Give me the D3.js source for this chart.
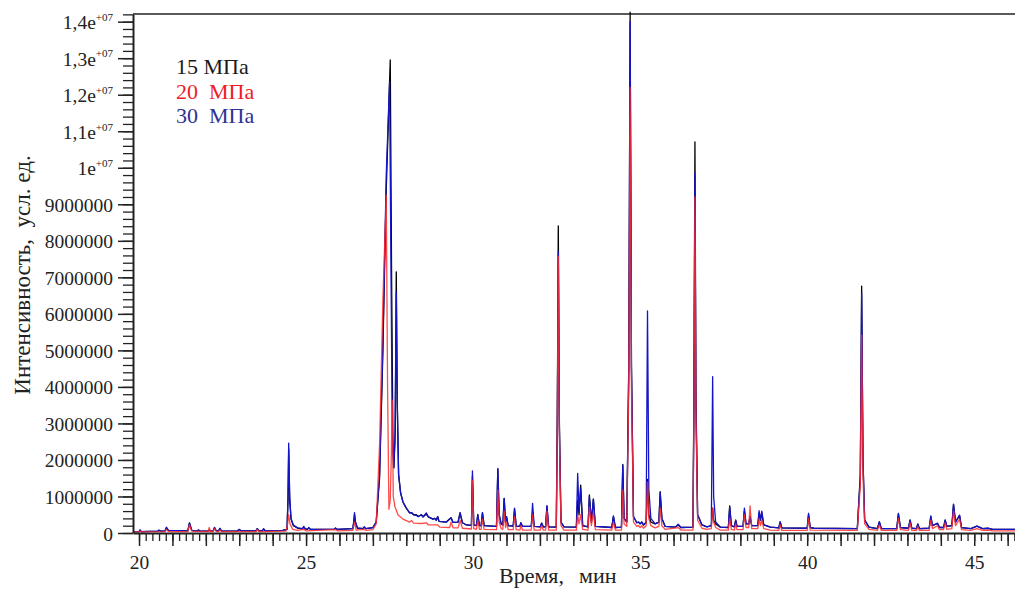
<!DOCTYPE html>
<html lang="ru">
<head>
<meta charset="UTF-8">
<script src="https://d3js.org/d3.v7.min.js"></script>
<style>
  body { margin: 0; background: #fff; }
  svg { display: block; font-family: 'Liberation Serif', 'DejaVu Serif', serif; }
  .axis path, .axis line { stroke: #222; }
  .axis text { fill: #222; font-size: 19.5px; font-family: 'Liberation Serif', 'DejaVu Serif', serif; }
  .trace { fill: none; stroke-width: 1.3px; stroke-linejoin: round; }
</style>
</head>
<body>
<script>
// intensity in millions of units, time in minutes: [t, value]
const series15 = [
  [19.82,0.04],[20.0,0.04],[20.03,0.06],[20.07,0.04],[20.56,0.05],[20.6,0.07],[20.65,0.05],[20.78,0.06],[20.82,0.14],[20.88,0.07],
  [21.46,0.06],[21.51,0.28],[21.58,0.07],[21.75,0.05],[21.78,0.08],[21.82,0.05],[22.07,0.05],[22.1,0.08],[22.14,0.05],[22.22,0.06],
  [22.26,0.15],[22.31,0.06],[22.38,0.06],[22.42,0.12],[22.47,0.05],[22.95,0.06],[23.0,0.09],[23.06,0.06],[23.5,0.06],[23.54,0.12],
  [23.59,0.06],[23.69,0.06],[23.73,0.1],[23.78,0.06],[24.3,0.07],[24.43,0.1],[24.46,0.9],[24.48,2.3],[24.51,0.9],[24.55,0.38],
  [24.62,0.2],[24.75,0.13],[24.89,0.11],[24.93,0.16],[24.98,0.11],[25.04,0.1],[25.08,0.14],[25.13,0.1],[25.84,0.1],[25.88,0.13],
  [25.93,0.1],[26.4,0.12],[26.43,0.3],[26.45,0.5],[26.48,0.28],[26.54,0.13],[26.7,0.12],[26.74,0.16],[26.79,0.12],[27.0,0.15],
  [27.1,0.3],[27.2,1.5],[27.3,5.0],[27.4,9.4],[27.52,12.95],[27.56,7.0],[27.6,2.5],[27.63,1.78],[27.67,2.8],[27.7,7.15],
  [27.73,3.6],[27.77,1.6],[27.83,1.1],[27.9,0.85],[28.0,0.68],[28.1,0.55],[28.16,0.55],[28.22,0.5],[28.3,0.5],[28.36,0.45],
  [28.45,0.5],[28.5,0.44],[28.6,0.52],[28.66,0.44],[28.8,0.38],[28.85,0.4],[28.9,0.35],[28.94,0.45],[28.98,0.32],[29.2,0.3],
  [29.34,0.42],[29.4,0.29],[29.55,0.3],[29.61,0.55],[29.68,0.28],[29.8,0.22],[29.95,0.21],[29.98,1.55],[30.02,0.22],[30.1,0.2],
  [30.14,0.5],[30.19,0.2],[30.24,0.2],[30.28,0.55],[30.33,0.2],[30.7,0.18],[30.74,1.75],[30.78,0.5],[30.84,0.25],[30.89,0.22],
  [30.93,0.95],[30.97,0.3],[31.0,0.45],[31.05,0.2],[31.2,0.19],[31.24,0.65],[31.29,0.19],[31.4,0.18],[31.43,0.28],[31.48,0.18],
  [31.74,0.18],[31.78,0.55],[31.83,0.18],[32.01,0.17],[32.05,0.27],[32.1,0.17],[32.17,0.17],[32.21,0.74],[32.26,0.17],[32.49,0.16],
  [32.52,3.2],[32.55,8.41],[32.58,3.2],[32.63,0.3],[32.72,0.17],[33.09,0.16],[33.13,0.9],[33.17,0.5],[33.22,1.31],[33.28,0.2],
  [33.44,0.17],[33.48,1.04],[33.54,0.3],[33.6,0.93],[33.66,0.18],[34.15,0.15],[34.2,0.45],[34.26,0.15],[34.44,0.16],[34.48,1.88],
  [34.52,0.4],[34.6,0.3],[34.66,4.6],[34.7,14.26],[34.74,4.6],[34.8,0.45],[34.9,0.28],[34.95,0.3],[35.0,0.25],[35.05,0.3],
  [35.1,0.22],[35.18,0.28],[35.22,1.47],[35.26,0.5],[35.32,0.3],[35.45,0.25],[35.56,0.3],[35.6,1.13],[35.65,0.4],[35.75,0.18],
  [36.05,0.16],[36.14,0.22],[36.22,0.15],[36.58,0.16],[36.61,3.8],[36.64,10.71],[36.67,3.8],[36.72,0.5],[36.85,0.22],[37.0,0.17],
  [37.13,0.2],[37.17,0.68],[37.2,0.35],[37.26,0.25],[37.4,0.16],[37.64,0.15],[37.68,0.74],[37.73,0.2],[37.82,0.17],[37.86,0.35],
  [37.9,0.18],[38.08,0.18],[38.12,0.6],[38.17,0.25],[38.25,0.25],[38.29,0.45],[38.34,0.2],[38.52,0.2],[38.56,0.55],[38.6,0.35],
  [38.64,0.55],[38.7,0.22],[38.9,0.16],[39.15,0.14],[39.19,0.3],[39.24,0.14],[40.0,0.13],[40.04,0.5],[40.09,0.15],[40.2,0.13],
  [41.5,0.12],[41.59,1.6],[41.63,6.76],[41.67,2.0],[41.72,0.35],[41.85,0.16],[42.1,0.12],[42.16,0.3],[42.22,0.12],[42.68,0.12],
  [42.73,0.52],[42.79,0.15],[43.03,0.13],[43.08,0.35],[43.13,0.13],[43.27,0.12],[43.31,0.24],[43.36,0.12],[43.65,0.13],[43.7,0.45],
  [43.75,0.2],[43.9,0.26],[43.96,0.15],[44.08,0.15],[44.13,0.35],[44.18,0.18],[44.33,0.2],[44.38,0.78],[44.44,0.3],[44.56,0.48],
  [44.62,0.15],[44.9,0.12],[45.08,0.19],[45.25,0.12],[45.43,0.13],[45.55,0.1],[46.25,0.1]
];

const series20 = [
  [19.82,0.03],[20.0,0.03],[20.03,0.05],[20.07,0.03],[20.78,0.04],[20.82,0.1],[20.88,0.04],[21.46,0.04],[21.51,0.22],[21.58,0.05],
  [22.07,0.04],[22.1,0.15],[22.14,0.04],[22.22,0.04],[22.26,0.12],[22.31,0.04],[22.38,0.04],[22.42,0.08],[22.47,0.04],[23.5,0.04],
  [23.54,0.1],[23.59,0.04],[24.4,0.05],[24.45,0.25],[24.48,0.5],[24.52,0.25],[24.6,0.1],[24.75,0.07],[24.93,0.1],[25.0,0.06],
  [25.88,0.09],[25.95,0.06],[26.4,0.07],[26.45,0.3],[26.5,0.08],[26.74,0.1],[26.8,0.07],[27.0,0.09],[27.1,0.25],[27.2,2.4],
  [27.3,6.4],[27.4,9.25],[27.44,4.0],[27.48,0.65],[27.52,0.9],[27.55,2.0],[27.58,3.64],[27.61,1.0],[27.66,0.72],[27.75,0.5],
  [27.9,0.38],[28.1,0.3],[28.16,0.34],[28.22,0.27],[28.45,0.26],[28.6,0.28],[28.66,0.22],[28.94,0.22],[29.0,0.16],[29.3,0.15],
  [29.34,0.3],[29.4,0.14],[29.55,0.14],[29.61,0.35],[29.68,0.13],[29.95,0.11],[29.98,1.45],[30.02,0.12],[30.1,0.1],[30.14,0.35],
  [30.19,0.1],[30.24,0.1],[30.28,0.38],[30.33,0.1],[30.7,0.09],[30.74,1.18],[30.78,0.3],[30.84,0.12],[30.89,0.1],[30.93,0.6],
  [30.97,0.15],[31.0,0.3],[31.05,0.09],[31.2,0.09],[31.24,0.45],[31.29,0.09],[31.4,0.08],[31.43,0.2],[31.48,0.08],[31.74,0.08],
  [31.78,0.5],[31.83,0.08],[32.01,0.08],[32.05,0.2],[32.1,0.08],[32.17,0.08],[32.21,0.6],[32.26,0.08],[32.49,0.08],[32.52,2.8],
  [32.55,7.57],[32.58,2.8],[32.63,0.2],[32.72,0.08],[33.09,0.08],[33.13,0.5],[33.17,0.25],[33.22,0.5],[33.28,0.1],[33.44,0.08],
  [33.48,0.72],[33.54,0.2],[33.6,0.55],[33.66,0.09],[34.15,0.08],[34.2,0.3],[34.26,0.08],[34.44,0.08],[34.48,1.18],[34.52,0.25],
  [34.6,0.18],[34.66,4.0],[34.7,12.2],[34.74,4.0],[34.8,0.3],[34.9,0.18],[34.95,0.2],[35.0,0.15],[35.05,0.2],[35.1,0.13],
  [35.18,0.2],[35.22,1.4],[35.26,0.4],[35.32,0.2],[35.45,0.14],[35.56,0.18],[35.6,0.68],[35.65,0.2],[35.75,0.1],[36.14,0.15],
  [36.22,0.08],[36.58,0.08],[36.61,3.2],[36.64,9.2],[36.67,3.2],[36.72,0.35],[36.85,0.13],[37.0,0.1],[37.13,0.12],[37.17,0.68],
  [37.2,0.3],[37.26,0.15],[37.4,0.08],[37.64,0.08],[37.68,0.4],[37.73,0.1],[37.82,0.08],[37.86,0.25],[37.9,0.09],[38.08,0.09],
  [38.12,0.5],[38.17,0.15],[38.25,0.15],[38.29,0.74],[38.34,0.12],[38.52,0.12],[38.56,0.4],[38.6,0.2],[38.64,0.35],[38.7,0.12],
  [38.9,0.08],[39.15,0.07],[39.19,0.22],[39.24,0.07],[40.0,0.07],[40.04,0.4],[40.09,0.08],[41.5,0.07],[41.59,1.3],[41.63,5.42],
  [41.67,1.6],[41.72,0.25],[41.85,0.1],[42.1,0.07],[42.16,0.22],[42.22,0.07],[42.68,0.07],[42.73,0.4],[42.79,0.09],[43.03,0.07],
  [43.08,0.28],[43.13,0.07],[43.27,0.07],[43.31,0.18],[43.36,0.07],[43.65,0.07],[43.7,0.35],[43.75,0.12],[43.9,0.2],[43.96,0.09],
  [44.08,0.09],[44.13,0.28],[44.18,0.1],[44.33,0.12],[44.38,0.6],[44.44,0.2],[44.56,0.38],[44.62,0.09],[44.9,0.07],[45.08,0.12],
  [45.25,0.07],[45.43,0.08],[45.55,0.06],[46.25,0.06]
];

const series30 = [
  [19.82,0.04],[20.0,0.04],[20.03,0.09],[20.07,0.04],[20.56,0.05],[20.6,0.08],[20.65,0.05],[20.78,0.06],[20.82,0.16],[20.88,0.07],
  [21.46,0.06],[21.51,0.26],[21.58,0.07],[21.75,0.05],[21.78,0.09],[21.82,0.05],[22.07,0.05],[22.1,0.08],[22.14,0.05],[22.22,0.06],
  [22.26,0.15],[22.31,0.06],[22.38,0.06],[22.42,0.13],[22.47,0.05],[22.95,0.06],[23.0,0.1],[23.06,0.06],[23.5,0.06],[23.54,0.12],
  [23.59,0.06],[23.69,0.06],[23.73,0.12],[23.78,0.06],[24.3,0.07],[24.43,0.1],[24.46,1.0],[24.48,2.46],[24.51,1.0],[24.55,0.4],
  [24.62,0.22],[24.75,0.14],[24.89,0.12],[24.93,0.18],[24.98,0.11],[25.04,0.1],[25.08,0.15],[25.13,0.1],[25.84,0.1],[25.88,0.14],
  [25.93,0.1],[26.4,0.12],[26.43,0.35],[26.45,0.56],[26.48,0.3],[26.54,0.14],[26.7,0.12],[26.74,0.17],[26.79,0.12],[27.0,0.15],
  [27.1,0.3],[27.2,1.6],[27.3,5.2],[27.4,9.8],[27.5,12.36],[27.54,7.5],[27.58,2.8],[27.62,1.8],[27.66,2.5],[27.7,6.6],
  [27.73,3.5],[27.77,1.6],[27.83,1.1],[27.9,0.85],[28.0,0.68],[28.1,0.55],[28.16,0.56],[28.22,0.5],[28.3,0.48],[28.36,0.45],
  [28.45,0.5],[28.5,0.44],[28.6,0.55],[28.66,0.44],[28.8,0.38],[28.85,0.4],[28.9,0.35],[28.94,0.45],[28.98,0.32],[29.2,0.3],
  [29.34,0.42],[29.4,0.29],[29.55,0.3],[29.61,0.56],[29.68,0.28],[29.8,0.22],[29.95,0.21],[29.98,1.7],[30.02,0.22],[30.1,0.2],
  [30.14,0.51],[30.19,0.2],[30.24,0.2],[30.28,0.56],[30.33,0.2],[30.7,0.18],[30.74,1.77],[30.78,0.5],[30.84,0.25],[30.89,0.22],
  [30.93,0.95],[30.97,0.3],[31.0,0.45],[31.05,0.2],[31.2,0.19],[31.24,0.68],[31.29,0.19],[31.4,0.18],[31.43,0.28],[31.48,0.18],
  [31.74,0.18],[31.78,0.81],[31.83,0.18],[32.01,0.17],[32.05,0.27],[32.1,0.17],[32.17,0.17],[32.21,0.74],[32.26,0.17],[32.49,0.16],
  [32.52,3.0],[32.55,7.7],[32.58,3.0],[32.63,0.3],[32.72,0.17],[33.09,0.16],[33.13,1.63],[33.17,0.6],[33.22,1.2],[33.28,0.2],
  [33.44,0.17],[33.48,1.0],[33.54,0.3],[33.6,0.93],[33.66,0.18],[34.15,0.15],[34.2,0.47],[34.26,0.15],[34.44,0.16],[34.48,1.85],
  [34.52,0.4],[34.6,0.3],[34.66,4.5],[34.7,14.0],[34.74,4.5],[34.8,0.45],[34.9,0.28],[34.95,0.3],[35.0,0.25],[35.05,0.3],
  [35.1,0.22],[35.18,0.3],[35.22,6.08],[35.26,1.2],[35.32,0.4],[35.45,0.25],[35.56,0.3],[35.6,1.1],[35.65,0.4],[35.75,0.18],
  [36.05,0.16],[36.14,0.24],[36.22,0.15],[36.58,0.16],[36.61,3.5],[36.64,9.85],[36.67,3.5],[36.72,0.5],[36.85,0.22],[37.0,0.17],
  [37.13,0.2],[37.17,4.28],[37.2,1.0],[37.26,0.3],[37.4,0.16],[37.64,0.15],[37.68,0.72],[37.73,0.2],[37.82,0.17],[37.86,0.35],
  [37.9,0.18],[38.08,0.18],[38.12,0.68],[38.17,0.25],[38.25,0.25],[38.29,0.45],[38.34,0.2],[38.52,0.2],[38.56,0.61],[38.6,0.35],
  [38.64,0.6],[38.7,0.22],[38.9,0.16],[39.15,0.14],[39.19,0.31],[39.24,0.14],[40.0,0.13],[40.04,0.54],[40.09,0.15],[40.2,0.13],
  [41.5,0.12],[41.59,1.5],[41.63,6.57],[41.67,2.0],[41.72,0.35],[41.85,0.16],[42.1,0.12],[42.16,0.31],[42.22,0.12],[42.68,0.12],
  [42.73,0.54],[42.79,0.15],[43.03,0.13],[43.08,0.36],[43.13,0.13],[43.27,0.12],[43.31,0.25],[43.36,0.12],[43.65,0.13],[43.7,0.47],
  [43.75,0.2],[43.9,0.27],[43.96,0.15],[44.08,0.15],[44.13,0.36],[44.18,0.18],[44.33,0.2],[44.38,0.79],[44.44,0.3],[44.56,0.49],
  [44.62,0.15],[44.9,0.12],[45.08,0.19],[45.25,0.12],[45.43,0.13],[45.55,0.1],[46.25,0.1]
];

const seriesNames = ["15 МПа", "20  МПа", "30  МПа"];
const seriesColors = ["#000000", "#ff2a2a", "#1414c8"];
const legendColors = ["#1a1a1a", "#ee1c25", "#2e3192"];
const xMajorLabels = [20, 25, 30, 35, 40, 45];
const yMajorTicks = [0,1,2,3,4,5,6,7,8,9,10,11,12,13,14];

const width = 1015, height = 593;
const margin = {left: 133, top: 14, right: -1, bottom: 60};
const serif = "'Liberation Serif', 'DejaVu Serif', serif";

const svg = d3.select("body").append("svg")
  .attr("width", width)
  .attr("height", height);

const x = d3.scaleLinear()
  .domain([19.82, 46.25])
  .range([margin.left, width - margin.right]);

const y = d3.scaleLinear()
  .domain([0, 14.21])
  .range([533, margin.top]);

// frame top line
svg.append("line")
  .attr("x1", x.range()[0]).attr("x2", x.range()[1])
  .attr("y1", margin.top).attr("y2", margin.top)
  .attr("stroke", "#222").attr("stroke-width", 1.6);

// traces: black first, then blue, red on top
const line = d3.line().x(d => x(d[0])).y(d => y(d[1]));
const drawOrder = [0, 2, 1];
const allSeries = [series15, series20, series30];
svg.append("g")
  .selectAll("path")
  .data(drawOrder)
  .join("path")
  .attr("class", "trace")
  .attr("stroke", i => seriesColors[i])
  .attr("stroke-opacity", i => i === 1 ? 0.85 : 1)
  .attr("d", i => line(allSeries[i]));

// x axis: minor every 0.2 min, major every 1 min
const xMinor = d3.range(20, 46.21, 0.2).map(v => +v.toFixed(1));
const xMajor = d3.range(20, 47, 1).filter(v => v <= 46.2);

svg.append("g")
  .attr("class", "axis")
  .attr("transform", "translate(0,533)")
  .call(d3.axisBottom(x).tickValues(xMinor).tickSize(8).tickFormat("").tickSizeOuter(0))
  .call(g => g.selectAll("line").attr("stroke-width", 1.3))
  .call(g => g.select(".domain").attr("stroke-width", 2));

svg.append("g")
  .attr("class", "axis")
  .attr("transform", "translate(0,533)")
  .call(d3.axisBottom(x).tickValues(xMajor).tickSize(13).tickPadding(9)
    .tickFormat(v => xMajorLabels.includes(v) ? String(v) : "").tickSizeOuter(0))
  .call(g => g.select(".domain").remove())
  .call(g => g.selectAll("line").attr("stroke-width", 1.5));

// y axis: minor every 200000, major every 1000000
const yMinor = d3.range(0, 14.21, 0.2).map(v => +v.toFixed(1));

svg.append("g")
  .attr("class", "axis")
  .attr("transform", `translate(${margin.left},0)`)
  .call(d3.axisLeft(y).tickValues(yMinor).tickSize(10).tickFormat("").tickSizeOuter(0))
  .call(g => g.selectAll("line").attr("stroke-width", 1.3))
  .call(g => g.select(".domain").attr("stroke-width", 2));

const yAxisMajor = svg.append("g")
  .attr("class", "axis")
  .attr("transform", `translate(${margin.left},0)`)
  .call(d3.axisLeft(y).tickValues(yMajorTicks).tickSize(15).tickPadding(5).tickFormat("").tickSizeOuter(0))
  .call(g => g.select(".domain").remove())
  .call(g => g.selectAll("line").attr("stroke-width", 1.5));

yAxisMajor.selectAll(".tick text").each(function(v) {
  const t = d3.select(this).attr("dy", "0.36em");
  if (v < 10) {
    t.text(String(v * 1000000));
  } else {
    const mant = v === 10 ? "1" : "1," + (v - 10);
    t.text(null);
    t.append("tspan").text(mant + "e");
    t.append("tspan").attr("font-size", "11px").attr("dy", "-0.75em").text("+07");
  }
});

// axis titles
const xTitle = svg.append("text")
  .attr("y", 583)
  .attr("font-family", serif)
  .attr("font-size", "22px")
  .attr("fill", "#222");
xTitle.append("tspan").attr("x", 499).text("Время,");
xTitle.append("tspan").attr("x", 579).text("мин");

svg.append("text")
  .attr("transform", "translate(30,275) rotate(-90)")
  .attr("text-anchor", "middle")
  .attr("font-family", serif)
  .attr("font-size", "23px")
  .attr("fill", "#222")
  .style("white-space", "pre")
  .text("Интенсивность,  усл. ед.");

// legend
svg.append("g")
  .selectAll("text")
  .data(seriesNames)
  .join("text")
  .attr("x", 176)
  .attr("y", (d, i) => 74 + i * 24.5)
  .attr("font-family", serif)
  .attr("font-size", "22px")
  .attr("fill", (d, i) => legendColors[i])
  .style("white-space", "pre")
  .text(d => d);
</script>
</body>
</html>
